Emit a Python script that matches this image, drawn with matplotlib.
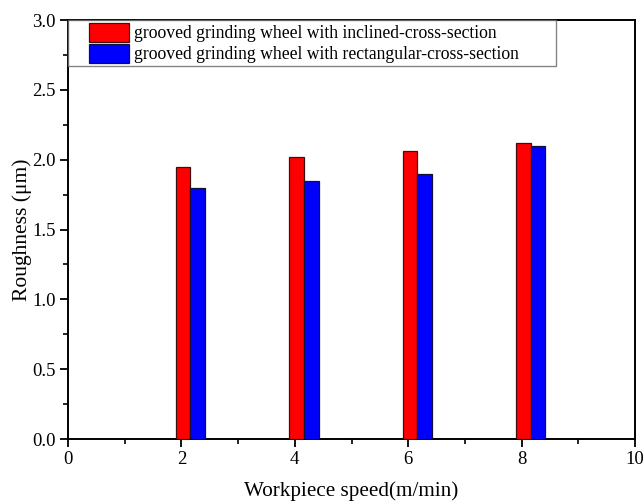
import matplotlib
matplotlib.use("Agg")
import matplotlib.pyplot as plt
from matplotlib.ticker import MultipleLocator, FormatStrFormatter
from matplotlib.patches import Rectangle, Patch
from matplotlib.legend_handler import HandlerPatch

plt.rcParams['font.family'] = ['Liberation Serif', 'DejaVu Serif']

speeds = [2, 4, 6, 8]
inclined = [1.95, 2.02, 2.06, 2.12]
rectangular = [1.80, 1.85, 1.90, 2.10]
labels = ["grooved grinding wheel with inclined-cross-section",
          "grooved grinding wheel with rectangular-cross-section"]
colors = ['#ff0000', '#0000ff']
edges = ['#3a1010', '#10103a']

fig = plt.figure(figsize=(6.44, 5.03), dpi=100)
ax = fig.add_axes([68/644, 1 - 439/503, (635-68)/644, (439-20)/503])

w = 0.26
ax.bar([s - 0.1 for s in speeds], inclined, width=w, align='edge',
       color=colors[0], edgecolor=edges[0], linewidth=0.9, zorder=3)
ax.bar([s - 0.1 + w for s in speeds], rectangular, width=w, align='edge',
       color=colors[1], edgecolor=edges[1], linewidth=0.9, zorder=3)

ax.set_xlim(0, 10)
ax.set_ylim(0, 3.0)
ax.xaxis.set_major_locator(MultipleLocator(2))
ax.xaxis.set_minor_locator(MultipleLocator(1))
ax.yaxis.set_major_locator(MultipleLocator(0.5))
ax.yaxis.set_minor_locator(MultipleLocator(0.25))
ax.yaxis.set_major_formatter(FormatStrFormatter('%.1f'))
ax.tick_params(which='major', direction='out', length=6, width=1.3, labelsize=13.5, pad=3)
ax.tick_params(which='minor', direction='out', length=3.5, width=1.2)
for sp in ax.spines.values():
    sp.set_linewidth(1.4)

ax.set_xlabel("Workpiece speed(m/min)", fontsize=15.2, labelpad=9)
ax.set_ylabel("Roughness (μm)", fontsize=15.5, labelpad=0)


class InsetSwatch(HandlerPatch):
    """Legend swatch placed at the right part of a wider handle box."""
    def __init__(self, lead=0.31, **kw):
        super().__init__(**kw)
        self.lead = lead

    def create_artists(self, legend, orig_handle, xdescent, ydescent,
                       width, height, fontsize, trans):
        x0 = -xdescent + width * self.lead
        p = Rectangle((x0, -ydescent), width * (1 - self.lead), height,
                      facecolor=orig_handle.get_facecolor(),
                      edgecolor=orig_handle.get_edgecolor(),
                      linewidth=0.9, transform=trans)
        return [p]


proxies = [Patch(facecolor=c, edgecolor=e) for c, e in zip(colors, edges)]
leg = ax.legend(proxies, labels, loc='upper left',
                bbox_to_anchor=(0.0, 0.0, (556 - 68) / 567, 1.0), mode='expand',
                fontsize=12.7, frameon=True, fancybox=False, edgecolor='#666666',
                borderaxespad=0, handlelength=3.3, handleheight=1.3,
                handletextpad=0.28, borderpad=0.15, labelspacing=0.1,
                handler_map={Patch: InsetSwatch()})
leg.get_frame().set_linewidth(1.0)

fig.savefig("out.png", dpi=100)
